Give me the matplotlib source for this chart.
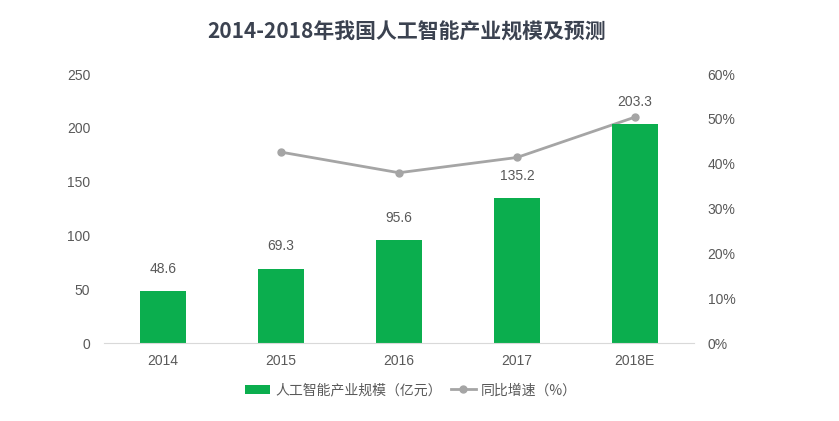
import matplotlib
matplotlib.use('Agg')
import matplotlib.pyplot as plt
from matplotlib.ticker import FuncFormatter

plt.rcParams['font.family'] = ['Liberation Sans', 'Noto Sans CJK SC', 'DejaVu Sans']

GREEN = '#0BAE4E'; GRAY = '#A5A5A5'; TXT = '#595959'; TITLE = '#3B4250'

years = ['2014', '2015', '2016', '2017', '2018E']
scale = [48.6, 69.3, 95.6, 135.2, 203.3]          # 亿元
growth_years = ['2015', '2016', '2017', '2018E']
growth = [42.6, 38.0, 41.4, 50.4]                 # %

fig = plt.figure(figsize=(8.39, 4.21), dpi=100, facecolor='white')
ax = fig.add_axes([0.124, 0.185, 0.703, 0.639])
x = list(range(len(years)))
bars = ax.bar(x, scale, width=0.39, color=GREEN, zorder=2)
for xi, v in zip(x, scale):
    ax.text(xi, v + 14, f'{v:.1f}', ha='center', va='bottom', fontsize=10, color=TXT, zorder=5)
ax.set_xlim(-0.5, len(years) - 0.5)
ax.set_ylim(0, 250)
ax.set_yticks(range(0, 251, 50))
ax.set_xticks(x)
ax.set_xticklabels(years)
for s in ['top', 'right', 'left']:
    ax.spines[s].set_visible(False)
ax.spines['bottom'].set_color('#D9D9D9')
ax.tick_params(axis='both', length=0, colors=TXT, labelsize=10)
ax.tick_params(axis='y', pad=10)
ax.tick_params(axis='x', pad=8)

ax2 = ax.twinx()
ax.set_zorder(ax2.get_zorder() + 1)
ax.patch.set_visible(False)
gx = [years.index(y) for y in growth_years]
line, = ax2.plot(gx, growth, color=GRAY, lw=2, marker='o', ms=5, zorder=3)
ax2.set_ylim(0, 60)
ax2.set_yticks(range(0, 61, 10))
ax2.yaxis.set_major_formatter(FuncFormatter(lambda v, p: f'{v:.0f}%'))
for s in ['top', 'right', 'left', 'bottom']:
    ax2.spines[s].set_visible(False)
ax2.tick_params(axis='y', length=0, colors=TXT, labelsize=10, pad=10)

fig.text(0.485, 0.925, '2014-2018年我国人工智能产业规模及预测', ha='center', va='center',
         fontsize=15, fontweight='bold', color=TITLE, family=['Noto Sans CJK SC'])

fig.legend([bars, line], ['人工智能产业规模（亿元）', '同比增速（%）'], loc='center',
           bbox_to_anchor=(0.49, 0.073), ncol=2, frameon=False, fontsize=10,
           labelcolor=TXT, handlelength=1.8, handletextpad=0.4, columnspacing=0.6,
           prop={'family': ['Noto Sans CJK SC'], 'size': 10})

fig.savefig('out.png', dpi=100, facecolor='white')
